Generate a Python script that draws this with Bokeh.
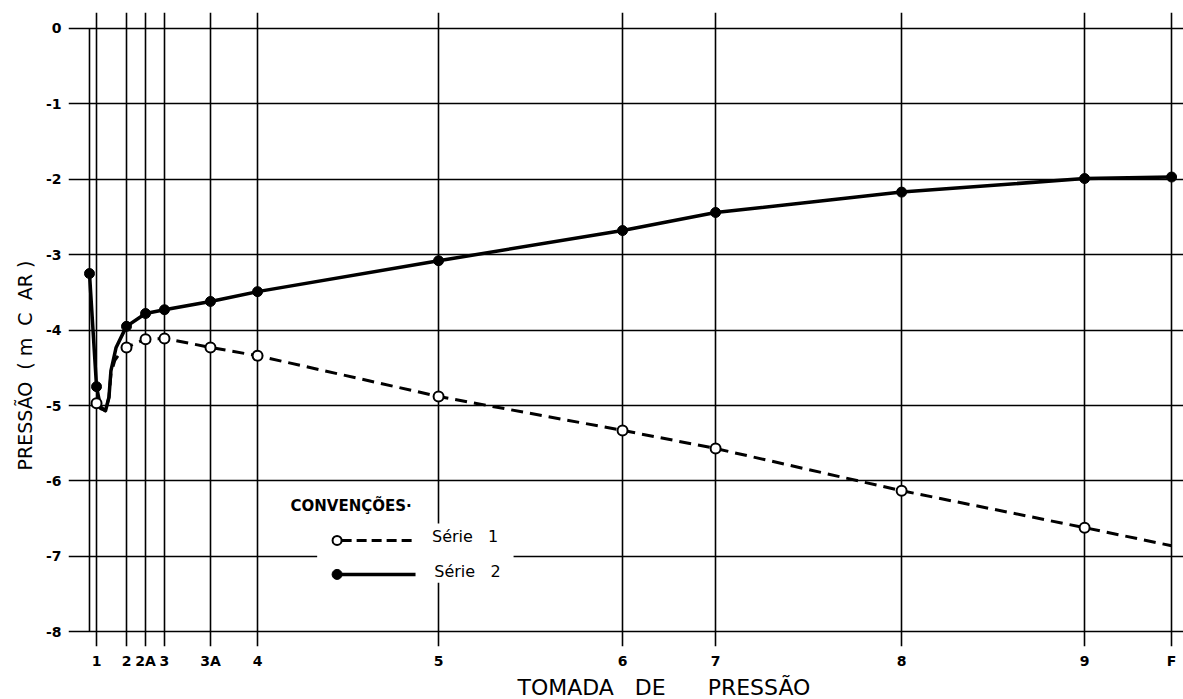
from bokeh.plotting import figure
from bokeh.models import Range1d, FixedTicker, Title
from bokeh.core.properties import value
from bokeh.embed import file_html
from bokeh.resources import INLINE

# ---------------- data ----------------
tomadas = ["1", "2", "2A", "3", "3A", "4", "5", "6", "7", "8", "9", "F"]
tomada_pos = [0.65, 3.42, 5.18, 6.93, 11.18, 15.53, 32.26, 49.26, 57.86, 75.05, 91.96, 100.0]
origin_pos = 0.0

y_ticks = [0, -1, -2, -3, -4, -5, -6, -7, -8]

# Série 1 (open circles, dashed) - markers at tomadas 1..9
serie1_mark_x = [0.65, 3.42, 5.18, 6.93, 11.18, 15.53, 32.26, 49.26, 57.86, 75.05, 91.96]
serie1_mark_y = [-4.97, -4.23, -4.12, -4.11, -4.23, -4.34, -4.88, -5.33, -5.57, -6.13, -6.62]
# Série 1 curve
serie1_curve_x = [0.65, 1.02, 1.48, 1.80, 1.98, 2.34, 2.90, 3.42, 5.18, 6.93, 11.18, 15.53,
                  32.26, 49.26, 57.86, 75.05, 91.96, 100.0]
serie1_curve_y = [-4.97, -5.04, -5.07, -4.89, -4.58, -4.40, -4.29, -4.23, -4.12, -4.11, -4.23, -4.34,
                  -4.88, -5.33, -5.57, -6.13, -6.62, -6.86]

# Série 2 (filled dots, solid)
serie2_mark_x = [0.0, 0.65, 3.42, 5.18, 6.93, 11.18, 15.53, 32.26, 49.26, 57.86, 75.05, 91.96, 100.0]
serie2_mark_y = [-3.25, -4.75, -3.95, -3.78, -3.73, -3.62, -3.49, -3.08, -2.68, -2.44, -2.17, -1.99, -1.97]
serie2_curve_x = [0.0, 0.65, 1.02, 1.48, 1.80, 1.98, 2.46, 3.14, 3.42, 5.18, 6.93, 11.18, 15.53,
                  32.26, 49.26, 57.86, 75.05, 91.96, 100.0]
serie2_curve_y = [-3.25, -4.75, -5.02, -5.07, -4.89, -4.54, -4.23, -4.03, -3.95, -3.78, -3.73, -3.62, -3.49,
                  -3.08, -2.68, -2.44, -2.17, -1.99, -1.97]

legend_title = "CONVENÇÕES·"
legend_labels = ["Série\u00a0\u00a0\u00a01", "Série\u00a0\u00a0\u00a02"]

FONT = "DejaVu Sans"

# ---------------- figure ----------------
p = figure(frame_width=1115, frame_height=634,
           x_range=Range1d(-1.94, 101.1), y_range=Range1d(-8.196, 0.212),
           output_backend="svg", toolbar_location=None,
           min_border_left=68, min_border_right=0, min_border_top=12, min_border_bottom=20)
p.outline_line_color = None
p.background_fill_color = "white"
p.border_fill_color = "white"

# grid
p.xgrid.ticker = FixedTicker(ticks=tomada_pos)
p.ygrid.ticker = FixedTicker(ticks=y_ticks)
for g in (p.xgrid, p.ygrid):
    g.grid_line_color = "black"
    g.grid_line_width = 1.6
    g.grid_line_alpha = 1.0

# axes
p.xaxis.ticker = FixedTicker(ticks=tomada_pos)
p.xaxis.major_label_overrides = {pos: lab for pos, lab in zip(tomada_pos, tomadas)}
p.yaxis.ticker = FixedTicker(ticks=y_ticks)
p.yaxis.major_label_overrides = {t: ("0" if t == 0 else "-" + str(-t)) for t in y_ticks}
for ax in (p.xaxis, p.yaxis):
    ax.axis_line_color = None
    ax.major_tick_line_color = None
    ax.minor_tick_line_color = None
    ax.major_tick_out = 0
    ax.major_tick_in = 0
    ax.minor_tick_out = 0
    ax.major_label_text_font = FONT
    ax.major_label_text_font_size = "14px"
    ax.major_label_text_font_style = "bold"
    ax.major_label_text_color = "black"
p.xaxis.major_label_standoff = 6
p.yaxis.major_label_standoff = 7

# origin line (left-most vertical line, only between 0 and -8)
p.segment(x0=[origin_pos], y0=[y_ticks[0]], x1=[origin_pos], y1=[y_ticks[-1]],
          line_color="black", line_width=1.6)

# series
p.line(serie1_curve_x, serie1_curve_y, line_color="black", line_width=3, line_dash="12 7")
p.line(serie2_curve_x, serie2_curve_y, line_color="black", line_width=3.5, line_join="round")
p.scatter(serie1_mark_x, serie1_mark_y, marker="circle", size=10, fill_color="white",
          line_color="black", line_width=2)
p.scatter(serie2_mark_x, serie2_mark_y, marker="circle", size=10, fill_color="black",
          line_color="black")

# legend ("Convenções"), drawn by hand to match the original layout
lg_box = dict(left=21.04, right=39.19, top=-6.565, bottom=-7.35)
p.quad(left=[lg_box["left"]], right=[lg_box["right"]], top=[lg_box["top"]], bottom=[lg_box["bottom"]],
       fill_color="white", line_color=None)
p.text(x=[18.58], y=[-6.33], text=[legend_title], text_font=value(FONT), text_font_size="15px",
       text_font_style="bold", text_baseline="middle", text_align="left", text_color="black")
row_y = [-6.79, -7.24]
p.segment(x0=[23.30], y0=[row_y[0]], x1=[30.13], y1=[row_y[0]], line_color="black", line_width=3,
          line_dash="10 5")
p.segment(x0=[22.88], y0=[row_y[1]], x1=[30.13], y1=[row_y[1]], line_color="black", line_width=3.5)
p.scatter([22.88], [row_y[0]], marker="circle", size=9, fill_color="white", line_color="black", line_width=2)
p.scatter([22.88], [row_y[1]], marker="circle", size=10, fill_color="black", line_color="black")
p.text(x=[31.65, 31.86], y=[-6.74, -7.20], text=legend_labels, text_font=value(FONT),
       text_font_size="16px", text_baseline="middle", text_align="left", text_color="black")

# axis titles
xt = Title(text="TOMADA\u00a0\u00a0\u00a0DE\u00a0\u00a0\u00a0\u00a0\u00a0\u00a0PRESSÃO", align="left", offset=449,
           text_font=FONT, text_font_size="22px", text_font_style="normal", text_color="black",
           standoff=2)
p.add_layout(xt, "below")
yt = Title(text="PRESSÃO\u00a0\u00a0(\u00a0m\u00a0\u00a0C\u00a0\u00a0AR\u00a0)", align="left", offset=176,
           text_font=FONT, text_font_size="19px", text_font_style="normal", text_color="black",
           standoff=14)
p.add_layout(yt, "left")

open("out.html", "w").write(file_html(p, INLINE))
